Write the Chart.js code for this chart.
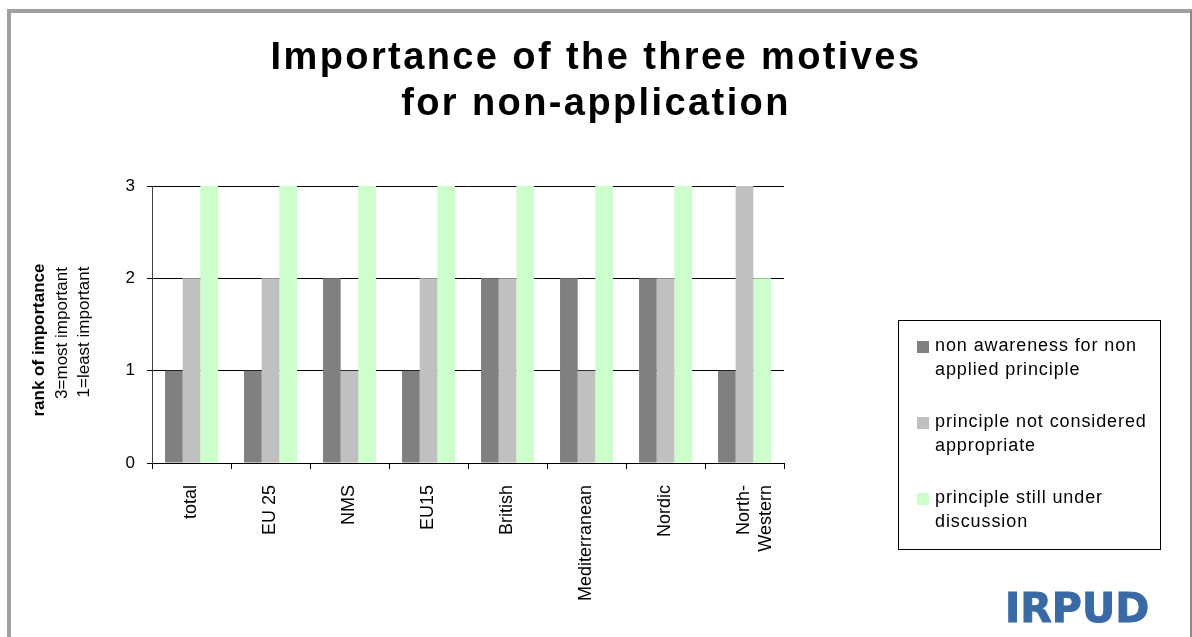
<!DOCTYPE html>
<html>
<head>
<meta charset="utf-8">
<script src="https://cdn.jsdelivr.net/npm/chart.js@4"></script>
<style>
    html, body { margin: 0; padding: 0; background: #fff; }
    body { width: 1192px; height: 637px; position: relative; overflow: hidden; font-family: 'Liberation Sans', Arial, sans-serif; }
    #frame {
        position: absolute; left: 7px; top: 9px; right: 0; height: 700px;
        border-left: 4px solid #a0a0a0; border-top: 4px solid #a0a0a0; border-right: 2px solid #8a8a8a;
        box-sizing: border-box; pointer-events: none;
    }
    #chart { position: absolute; left: 0; top: 0; }
    #title {
        position: absolute; left: 0; width: 1192px; top: 33px; text-align: center;
        font-weight: bold; font-size: 38px; line-height: 46px; letter-spacing: 2.4px; color: #000;
    }
    .ylab {
        position: absolute; top: 340px; white-space: nowrap; font-size: 17px; color: #000;
        transform: translate(-50%, -50%) rotate(-90deg);
    }
    #legend {
        position: absolute; left: 898px; top: 320px; width: 263px; height: 230px;
        border: 1px solid #000; box-sizing: border-box; padding-top: 12px;
    }
    .item { position: relative; padding-left: 36px; font-size: 18px; line-height: 24px; letter-spacing: 0.9px; margin-bottom: 28px; }
    .item span { position: absolute; left: 18px; top: 8px; width: 12px; height: 12px; }
    #logo {
        position: absolute; left: 1005px; top: 584px; font-size: 41px; font-weight: bold;
        font-family: 'DejaVu Sans', sans-serif; line-height: 48px;
        color: #3a6aa6; -webkit-text-stroke: 1px #3a6aa6;
    }
</style>
</head>
<body>
<canvas id="chart" width="1192" height="637"></canvas>
<div id="frame"></div>
<div id="title">Importance of the three motives<br>for non-application</div>
<div class="ylab" style="left:39px; font-weight:bold;">rank of importance</div>
<div class="ylab" style="left:62px; top:333px;">3=most important</div>
<div class="ylab" style="left:84px; top:332px;">1=least important</div>
<div id="legend"></div>
<div id="logo">IRPUD</div>
<script>
// categories and the three motive series (rank 1..3)
const categories = ['total', 'EU 25', 'NMS', 'EU15', 'British', 'Mediterranean', 'Nordic', ['North-', 'Western']];
const nonAwareness = [1, 1, 2, 1, 2, 2, 2, 1];
const notAppropriate = [2, 2, 1, 2, 2, 1, 2, 3];
const underDiscussion = [3, 3, 3, 3, 3, 3, 3, 2];
const yTicks = [0, 1, 2, 3];

const seriesNames = [
    ['non awareness for non', 'applied principle'],
    ['principle not considered', 'appropriate'],
    ['principle still under', 'discussion']
];
const seriesColors = ['#808080', '#c0c0c0', '#ccffcc'];

const fontFamily = "'Liberation Sans', Arial, sans-serif";

// html legend with box
const legendEl = document.getElementById('legend');
seriesNames.forEach((name, i) => {
    const div = document.createElement('div');
    div.className = 'item';
    div.innerHTML = '<span style="background:' + seriesColors[i] + '"></span>' + name.join('<br>');
    legendEl.appendChild(div);
});

new Chart(document.getElementById('chart'), {
    type: 'bar',
    data: {
        labels: categories,
        datasets: [
            { label: seriesNames[0].join(' '), data: nonAwareness, backgroundColor: seriesColors[0] },
            { label: seriesNames[1].join(' '), data: notAppropriate, backgroundColor: seriesColors[1] },
            { label: seriesNames[2].join(' '), data: underDiscussion, backgroundColor: seriesColors[2] }
        ]
    },
    options: {
        responsive: false,
        animation: false,
        layout: { padding: { top: 186, right: 408, bottom: 0, left: 0 } },
        datasets: {
            bar: { categoryPercentage: 0.67, barPercentage: 1.0 }
        },
        plugins: {
            legend: { display: false },
            title: { display: false },
            tooltip: { enabled: false }
        },
        scales: {
            x: {
                offset: true,
                grid: {
                    display: true,
                    drawOnChartArea: false,
                    color: '#000',
                    tickLength: 6
                },
                border: { color: '#000' },
                ticks: {
                    color: '#000',
                    minRotation: 90,
                    maxRotation: 90,
                    padding: 16,
                    font: { family: fontFamily, size: 18 }
                },
                afterFit: function (scale) { scale.height = 174; }
            },
            y: {
                min: 0,
                max: 3,
                afterBuildTicks: function (scale) {
                    scale.ticks = yTicks.map(v => ({ value: v }));
                },
                grid: {
                    color: '#000',
                    tickLength: 5
                },
                border: { color: '#404040' },
                ticks: {
                    color: '#000',
                    padding: 12,
                    font: { family: fontFamily, size: 17 }
                },
                afterFit: function (scale) { scale.width = 152; }
            }
        }
    }
});
</script>
</body>
</html>
